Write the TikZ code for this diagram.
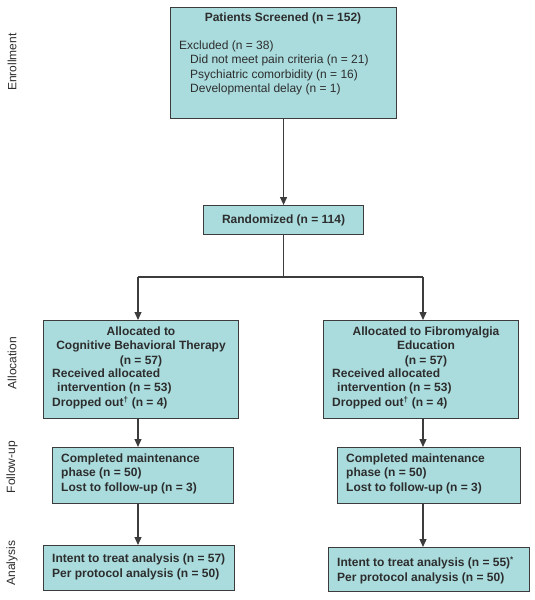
\documentclass[tikz,border=0pt]{standalone}
\usepackage{fontspec}
\setmainfont{Liberation Sans}
\usepackage{tikz}
\usetikzlibrary{arrows.meta,positioning,calc}

\definecolor{boxfill}{RGB}{170,220,222}
\definecolor{boxline}{RGB}{60,60,60}
\definecolor{txtgray}{RGB}{45,45,45}

\begin{document}
\begin{tikzpicture}[x=1pt,y=-1pt,
  box/.style={draw=boxline,fill=boxfill,line width=1.1pt,rectangle,anchor=north west,inner sep=0pt},
  txt/.style={text=txtgray,inner sep=0pt,font=\fontsize{12}{14.5}\selectfont},
  btxt/.style={txt,font=\fontsize{12}{14.5}\selectfont\bfseries},
  phase/.style={txt,rotate=90},
  arr/.style={draw=boxline,line width=1.2pt,-{Triangle[length=8pt,width=7pt]}},
  ln/.style={draw=boxline,line width=1.2pt}]
\useasboundingbox (0,0) rectangle (535,600);

% phase labels
\node[phase] (lblenrol) at (12,62) {Enrollment};
\node[phase] (lblalloc) at (12,363) {Allocation};
\node[phase] (lblfollow) at (12,467) {Follow-up};
\node[phase] (lblanalysis) at (12,563) {Analysis};

% enrollment
\node[box,minimum width=226pt,minimum height=111pt] (screen) at (170,7) {};
\node[btxt,anchor=north] (screentitle) at (283,13) {Patients Screened (n = 152)};
\node[txt,anchor=north west,align=left] (excl) at (179,40.5)
  {Excluded (n = 38)\\
   \hspace*{11pt}Did not meet pain criteria (n = 21)\\
   \hspace*{11pt}Psychiatric comorbidity (n = 16)\\
   \hspace*{11pt}Developmental delay (n = 1)};

\node[box,minimum width=160pt,minimum height=29pt,btxt] (rand) at (203,205) {Randomized (n = 114)};

% allocation
\node[box,minimum width=195pt,minimum height=98pt] (cbt) at (43,320) {};
\node[btxt,anchor=north,align=center] (cbttitle) at (141,326.5)
  {Allocated to\\Cognitive Behavioral Therapy\\(n = 57)};
\node[btxt,anchor=north west,align=left] (cbtinfo) at (52,368.5)
  {Received allocated\\\hspace*{5pt}intervention (n = 53)\\Dropped out\textsuperscript{\textdagger} (n = 4)};

\node[box,minimum width=195pt,minimum height=98pt] (fme) at (323,320) {};
\node[btxt,anchor=north,align=center] (fmetitle) at (426,326.5)
  {Allocated to Fibromyalgia\\Education\\(n = 57)};
\node[btxt,anchor=north west,align=left] (fmeinfo) at (332,368.5)
  {Received allocated\\\hspace*{5pt}intervention (n = 53)\\Dropped out\textsuperscript{\textdagger} (n = 4)};

% follow-up
\node[box,minimum width=181pt,minimum height=56pt] (cbtfu) at (52,447) {};
\node[btxt,anchor=north west,align=left] (cbtfutext) at (61,453.5)
  {Completed maintenance\\phase (n = 50)\\Lost to follow-up (n = 3)};

\node[box,minimum width=183pt,minimum height=56pt] (fmefu) at (337,447) {};
\node[btxt,anchor=north west,align=left] (fmefutext) at (346,453.5)
  {Completed maintenance\\phase (n = 50)\\Lost to follow-up (n = 3)};

% analysis
\node[box,minimum width=191pt,minimum height=45pt] (cbtan) at (43,545) {};
\node[btxt,anchor=north west,align=left] (cbtantext) at (52,554)
  {Intent to treat analysis (n = 57)\\Per protocol analysis (n = 50)};

\node[box,minimum width=201pt,minimum height=44pt] (fmean) at (328,547) {};
\node[btxt,anchor=north west,align=left] (fmeantext) at (337,556.5)
  {Intent to treat analysis (n = 55)\textsuperscript{*}\\Per protocol analysis (n = 50)};

% connectors
\coordinate (brL) at (138,277);
\coordinate (brR) at (423,277);
\draw[arr] (screen.south) -- (rand.north);
\draw[ln] (rand.south) -- (rand.south |- brL);
\draw[ln] (brL) -- (brR);
\draw[arr] (brL) -- (brL |- cbt.north);
\draw[arr] (brR) -- (brR |- fme.north);
\draw[arr] (brL |- cbt.south) -- (brL |- cbtfu.north);
\draw[arr] (brR |- fme.south) -- (brR |- fmefu.north);
\draw[arr] (brL |- cbtfu.south) -- (brL |- cbtan.north);
\draw[arr] (brR |- fmefu.south) -- (brR |- fmean.north);
\end{tikzpicture}
\end{document}
